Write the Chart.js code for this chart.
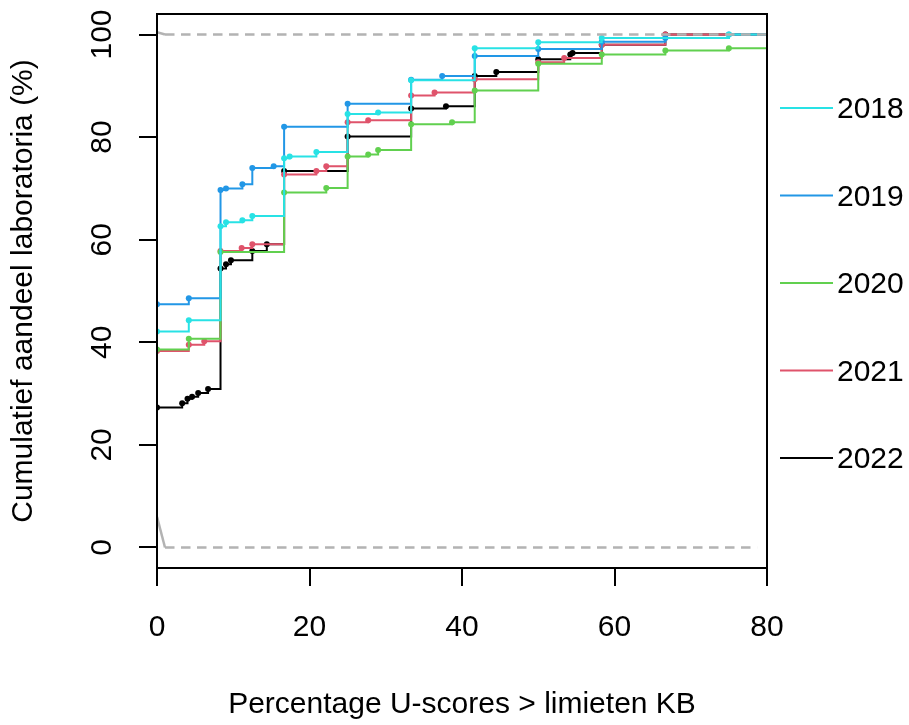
<!DOCTYPE html>
<html>
<head>
<meta charset="utf-8">
<title>Cumulatief aandeel laboratoria</title>
<script src="https://cdn.jsdelivr.net/npm/chart.js@4.4.1/dist/chart.umd.min.js"></script>
<style>
    html, body { margin: 0; padding: 0; background: #fff; }
    canvas { display: block; }
</style>
</head>
<body>
<canvas id="ecdfChart" width="909" height="725"></canvas>
<script>
// Percentage U-scores (x) and cumulative share of labs in % (y), one pair per year
const years = ['2018', '2019', '2020', '2021', '2022'];

const x2018 = [0, 4.17, 8.33, 9.05, 11.2, 12.5, 16.67, 17.4, 20.9, 25, 29.0, 33.33, 41.67, 50, 58.33, 75];
const y2018 = [42.1, 44.3, 62.6, 63.4, 63.8, 64.6, 75.9, 76.2, 77.1, 84.5, 84.8, 91.1, 97.3, 98.5, 99.3, 100];

const x2019 = [0, 4.17, 8.33, 9.05, 11.2, 12.5, 15.3, 16.67, 25, 33.33, 37.4, 41.67, 50, 58.33, 66.67, 75];
const y2019 = [47.4, 48.6, 69.7, 70.0, 70.8, 74.0, 74.3, 82.0, 86.5, 91.2, 91.9, 95.8, 97.2, 98.6, 99.3, 100];

const x2020 = [0, 4.17, 8.33, 16.67, 22.2, 25, 27.7, 29.0, 33.33, 38.7, 41.67, 50, 58.33, 66.67, 75];
const y2020 = [38.6, 40.7, 57.6, 69.2, 70.1, 76.2, 76.6, 77.5, 82.5, 82.9, 89.1, 94.3, 96.1, 96.9, 97.3];

const x2021 = [0, 4.17, 6.2, 8.33, 11.1, 12.5, 16.67, 20.9, 22.2, 25, 27.7, 33.33, 36.4, 41.67, 50, 53.4, 58.33, 66.67];
const y2021 = [38.3, 39.5, 40.2, 57.8, 58.4, 59.1, 72.7, 73.4, 74.3, 82.9, 83.3, 88.1, 88.7, 91.3, 94.6, 95.4, 98.0, 100];

const x2022 = [0, 3.3, 4.0, 4.6, 5.4, 6.7, 8.33, 9.05, 9.7, 12.5, 14.4, 16.67, 25, 33.33, 37.9, 41.67, 44.5, 50, 54.2, 54.5, 58.33, 66.67];
const y2022 = [27.3, 28.1, 29.0, 29.4, 30.1, 30.9, 54.4, 55.2, 56.0, 57.8, 59.1, 73.4, 80.1, 85.6, 86.0, 91.9, 92.7, 95.2, 96.1, 96.4, 98.0, 100];

const xTicks = [0, 20, 40, 60, 80];
const yTicks = [0, 20, 40, 60, 80, 100];

// grey reference lines at 0 % and 100 %
const lowSlant = [{ x: 0, y: 6 }, { x: 1.05, y: 0 }];
const lowDash = [{ x: 1.05, y: 0 }, { x: 78.7, y: 0 }];
const highSlant = [{ x: 0, y: 100.45 }, { x: 1.05, y: 100 }];
const highDash = [{ x: 1.05, y: 100 }, { x: 80, y: 100 }];

const xMin = 0, xMax = 80;
const colors = ['#28E2E5', '#2297E6', '#61D04F', '#DF536B', '#000000'];
const grey = '#b3b3b3';
const fontFamily = '"Liberation Sans", Arial, Helvetica, sans-serif';

Chart.defaults.font.family = fontFamily;
Chart.defaults.color = '#000';

function stepData(xs, ys) {
    const pts = [{ x: xMin, y: 0, knot: false }];
    xs.forEach((x, i) => pts.push({ x: x, y: ys[i], knot: true }));
    pts.push({ x: xMax, y: ys[ys.length - 1], knot: false });
    return pts;
}

function greyLine(data, dashed) {
    return {
        data: data,
        borderColor: grey,
        borderWidth: 2.5,
        borderDash: dashed ? [9.5, 6.5] : [],
        pointRadius: 0,
        stepped: false
    };
}

const allX = [x2018, x2019, x2020, x2021, x2022];
const allY = [y2018, y2019, y2020, y2021, y2022];

// first dataset is drawn on top, so grey lines go first, then 2018 ... 2022
const datasets = [
    greyLine(lowSlant, false),
    greyLine(lowDash, true),
    greyLine(highSlant, false),
    greyLine(highDash, true)
];
years.forEach((year, i) => {
    datasets.push({
        label: year,
        data: stepData(allX[i], allY[i]),
        borderColor: colors[i],
        backgroundColor: colors[i],
        borderWidth: 2,
        stepped: true,
        pointRadius: ctx => (ctx.raw && ctx.raw.knot ? 3 : 0),
        pointBorderWidth: 0,
        pointBackgroundColor: colors[i]
    });
});

// box round the plot area
const plotBox = {
    id: 'plotBox',
    afterDraw(chart) {
        const { ctx, chartArea } = chart;
        ctx.save();
        ctx.strokeStyle = '#000';
        ctx.lineWidth = 2;
        ctx.strokeRect(chartArea.left, chartArea.top, chartArea.right - chartArea.left, chartArea.bottom - chartArea.top);
        ctx.restore();
    }
};

// legend to the right of the plot, like R's legend(xpd = TRUE)
const sideLegend = {
    id: 'sideLegend',
    afterDraw(chart) {
        const { ctx, chartArea } = chart;
        const x0 = chartArea.right + 13;
        ctx.save();
        ctx.font = '30px ' + fontFamily;
        ctx.textBaseline = 'middle';
        ctx.textAlign = 'left';
        ctx.lineWidth = 2;
        years.forEach((year, i) => {
            const y = 108 + i * 87.5;
            ctx.strokeStyle = colors[i];
            ctx.beginPath();
            ctx.moveTo(x0, y);
            ctx.lineTo(x0 + 53, y);
            ctx.stroke();
            ctx.fillStyle = '#000';
            ctx.fillText(year, x0 + 57, y + 2);
        });
        ctx.restore();
    }
};

const ctx = document.getElementById('ecdfChart').getContext('2d');
const ecdfChart = new Chart(ctx, {
    type: 'line',
    data: { datasets: datasets },
    options: {
        responsive: false,
        animation: false,
        events: [],
        layout: { padding: { top: 14, right: 142, left: 0, bottom: 0 } },
        plugins: {
            legend: { display: false },
            tooltip: { enabled: false }
        },
        scales: {
            x: {
                type: 'linear',
                min: xMin,
                max: xMax,
                afterBuildTicks: scale => { scale.ticks = xTicks.map(v => ({ value: v })); },
                afterFit: scale => { scale.height = 157; scale.paddingLeft = 0; scale.paddingRight = 0; },
                grid: { drawOnChartArea: false, drawTicks: true, tickLength: 18, color: '#000', lineWidth: 2 },
                border: { display: false },
                ticks: { color: '#000', font: { size: 30 }, padding: 24, maxRotation: 0, autoSkip: false },
                title: {
                    display: true,
                    text: 'Percentage U-scores > limieten KB',
                    color: '#000',
                    font: { size: 30 },
                    padding: { top: 0, bottom: 2 }
                }
            },
            y: {
                type: 'linear',
                min: -4,
                max: 104,
                afterBuildTicks: scale => { scale.ticks = yTicks.map(v => ({ value: v })); },
                afterFit: scale => { scale.width = 157; scale.paddingTop = 0; scale.paddingBottom = 0; },
                grid: { drawOnChartArea: false, drawTicks: true, tickLength: 18, color: '#000', lineWidth: 2 },
                border: { display: false },
                ticks: {
                    color: '#000',
                    font: { size: 30 },
                    padding: 11,
                    minRotation: 90,
                    maxRotation: 90,
                    crossAlign: 'center',
                    autoSkip: false
                },
                title: {
                    display: true,
                    text: 'Cumulatief aandeel laboratoria (%)',
                    color: '#000',
                    font: { size: 30 },
                    padding: { top: 6, bottom: 0 }
                }
            }
        }
    },
    plugins: [plotBox, sideLegend]
});
</script>
</body>
</html>
